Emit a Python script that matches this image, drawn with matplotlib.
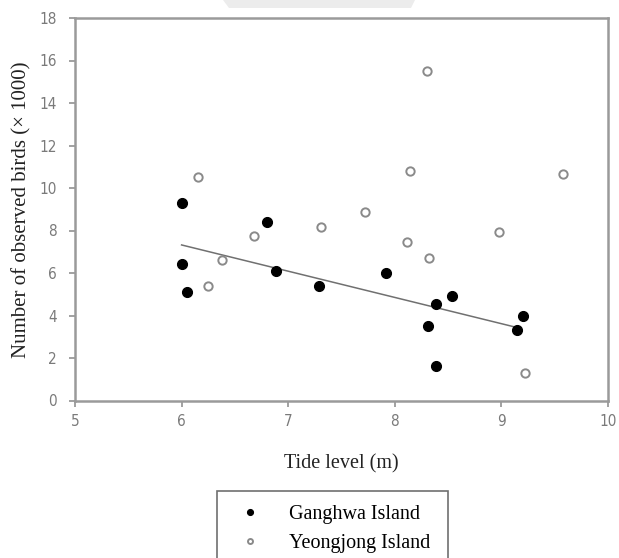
import matplotlib
matplotlib.use("Agg")
import matplotlib.pyplot as plt
from matplotlib.patches import Rectangle, Polygon

plt.rcParams['font.family'] = ['Liberation Serif', 'DejaVu Serif']

# Data
ganghwa_x = [6.00, 6.00, 6.05, 6.80, 6.89, 7.29, 7.92, 8.31, 8.39, 8.54, 8.39, 9.15, 9.20]
ganghwa_y = [9.28, 6.42, 5.12, 8.40, 6.09, 5.39, 5.98, 3.52, 4.56, 4.92, 1.62, 3.33, 3.99]
yeongjong_x = [6.15, 6.68, 6.38, 6.25, 7.31, 7.72, 8.11, 8.14, 8.30, 8.32, 8.98, 9.22, 9.58]
yeongjong_y = [10.50, 7.74, 6.61, 5.40, 8.18, 8.87, 7.47, 10.80, 15.50, 6.72, 7.95, 1.31, 10.64]
trend_x = [6.00, 9.15]
trend_y = [7.32, 3.43]
x_ticks = [5, 6, 7, 8, 9, 10]
y_ticks = [0, 2, 4, 6, 8, 10, 12, 14, 16, 18]
series_labels = ["Ganghwa Island", "Yeongjong Island"]

W, H = 619, 558
fig = plt.figure(figsize=(W / 100, H / 100), dpi=100)
ax = fig.add_axes([75 / W, 1 - 400.5 / H, (608 - 75) / W, (400.5 - 18) / H])

frame_col = '#9a9a9a'
tick_col = '#7a7a7a'

ax.plot(trend_x, trend_y, color='#707070', lw=1.1, zorder=2)
h1, = ax.plot(ganghwa_x, ganghwa_y, 'o', ms=7.2, mfc='black', mec='black', mew=0.8, ls='none', zorder=3)
h2, = ax.plot(yeongjong_x, yeongjong_y, 'o', ms=6.0, mfc='white', mec='#8a8a8a', mew=1.4, ls='none', zorder=3)

ax.set_xlim(5, 10)
ax.set_ylim(0, 18)
ax.set_xticks(x_ticks)
ax.set_yticks(y_ticks)
ax.set_xticklabels([str(v) for v in x_ticks])
ax.set_yticklabels([str(v) for v in y_ticks])
for s in ax.spines.values():
    s.set_color(frame_col)
    s.set_linewidth(1.8)
ax.tick_params(direction='out', length=4, width=1.3, color=frame_col, labelcolor=tick_col, labelsize=11)
ax.tick_params(axis='y', pad=9)
ax.tick_params(axis='x', pad=6)
for lab in ax.get_xticklabels() + ax.get_yticklabels():
    lab.set_family(['Liberation Sans Narrow', 'DejaVu Sans'])
    lab.set_stretch('condensed')
ax.set_xlabel("Tide level (m)", fontsize=14.5, labelpad=18, color='#222222')
ax.set_ylabel("Number of observed birds (× 1000)", fontsize=15, labelpad=6, color='#222222')

# legend box below
fig.patches.append(Rectangle((216.5 / W, -0.01), (448 - 216.5) / W, (H - 490.5) / H + 0.01,
                             transform=fig.transFigure, fill=False, edgecolor='#707070', lw=1.2))
leg = fig.legend([h1, h2], series_labels, loc='upper left',
                 bbox_to_anchor=(212 / W, 1 - 487 / H), frameon=False,
                 fontsize=14.5, handletextpad=0.9, labelspacing=0.5, markerscale=0.6)

# faint watermark shape at top
fig.patches.append(Polygon([(223 / W, 1), (415 / W, 1), (411 / W, 1 - 8 / H), (229 / W, 1 - 8 / H)],
                           closed=True, transform=fig.transFigure, facecolor='#ececec', edgecolor='none'))

fig.savefig("out.png", dpi=100)
